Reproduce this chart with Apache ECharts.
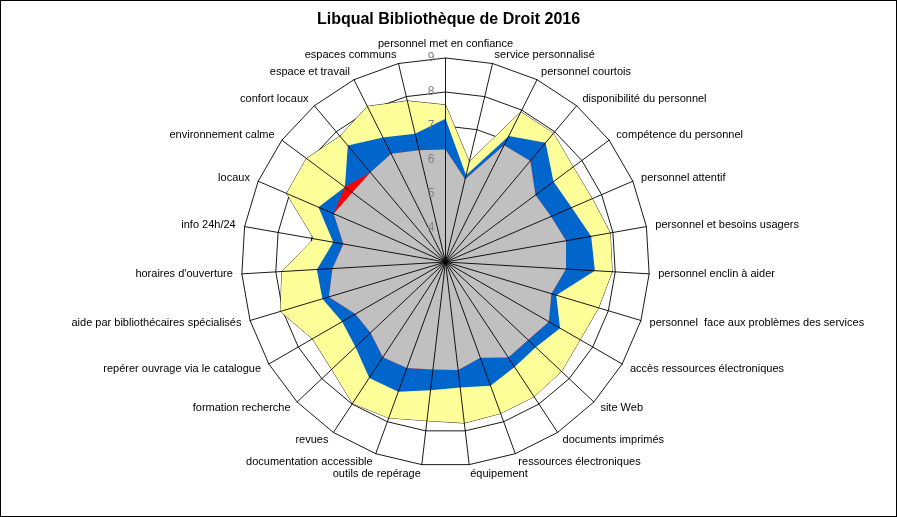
<!DOCTYPE html>
<html>
<head>
<meta charset="utf-8">
<script src="https://cdn.jsdelivr.net/npm/echarts@6/dist/echarts.min.js"></script>
<style>
html,body{margin:0;padding:0;background:#fff;}
#wrap{width:895px;height:515px;border:1px solid #000;}
#chart{width:895px;height:515px;}
</style>
</head>
<body>
<div id="wrap"><div id="chart"></div></div>
<script>
const categories = [
  "personnel met en confiance","service personnalisé","personnel courtois","disponibilité du personnel",
  "compétence du personnel","personnel attentif","personnel et besoins usagers","personnel enclin à aider",
  "personnel  face aux problèmes des services","accès ressources électroniques","site Web","documents imprimés",
  "ressources électroniques","équipement","outils de repérage","documentation accessible","revues",
  "formation recherche","repérer ouvrage via le catalogue","aide par bibliothécaires spécialisés",
  "horaires d'ouverture","info 24h/24","locaux","environnement calme","confort locaux","espace et travail",
  "espaces communs"
];
// Desired mean (yellow)
const desiredMean = [7.62,6.03,7.94,7.94,7.68,7.70,7.92,7.91,7.70,7.57,7.69,7.74,7.74,7.77,7.70,7.88,7.98,7.60,7.52,8.07,7.82,6.93,8.09,8.10,7.83,8.12,7.87];
// Perceived mean (blue)
const perceivedMean = [7.21,5.62,7.15,7.58,6.96,7.04,7.35,7.40,6.40,6.89,6.65,6.70,6.87,6.72,6.80,7.06,7.08,6.64,6.51,6.78,6.79,6.35,7.07,6.69,7.47,7.10,6.88];
// Minimum mean (red layer)
const minimumMean = [6.31,5.50,6.84,6.88,6.30,6.38,6.60,6.55,6.25,6.51,6.34,6.36,6.00,6.20,6.18,6.32,6.35,6.03,6.06,6.58,6.33,6.05,6.58,6.69,6.44,6.56,6.38];
// Visible grey floor
const floorMean = [6.31,5.50,6.84,6.88,6.30,6.38,6.60,6.55,6.25,6.51,6.34,6.36,6.00,6.20,6.18,6.32,6.35,6.03,6.06,6.58,6.33,6.05,6.58,6.42,6.44,6.56,6.38];
const scaleTicks = [3,4,5,6,7,8,9];

// ECharts places indicators counter-clockwise; reorder so they run clockwise
const order = [0].concat(categories.map((_, i) => i).slice(1).reverse());
const pick = arr => order.map(i => arr[i]);

const FONT = '"Liberation Sans", Arial, sans-serif';
const center = [444.5, 261];
const radius = 204;
const minV = scaleTicks[0], maxV = scaleTicks[scaleTicks.length - 1];

const baseIndicators = order.map(i => ({ name: categories[i], min: minV, max: maxV }));
const overlayIndicators = order.map((i, k) => ({
  name: '', min: minV, max: maxV,
  axisLabel: k === 0 ? { show: true } : { show: false }
}));

const chart = echarts.init(document.getElementById('chart'), null, { renderer: 'canvas' });
chart.setOption({
  animation: false,
  backgroundColor: '#fff',
  title: {
    text: 'Libqual Bibliothèque de Droit 2016',
    left: 'center', top: 6,
    textStyle: { fontFamily: FONT, fontSize: 16, fontWeight: 'bold', color: '#000' }
  },
  radar: [
    {
      center: center, radius: radius, startAngle: 90, shape: 'polygon',
      splitNumber: scaleTicks.length - 1, z: 1,
      indicator: baseIndicators,
      axisName: { color: '#000', fontFamily: FONT, fontSize: 11 },
      nameGap: 9,
      axisLine: { show: false },
      axisTick: { show: false },
      axisLabel: { show: false },
      splitLine: { show: true, lineStyle: { color: '#000', width: 0.9 } },
      splitArea: { show: false }
    },
    {
      center: center, radius: radius, startAngle: 90, shape: 'polygon',
      splitNumber: scaleTicks.length - 1, z: 5,
      indicator: overlayIndicators,
      axisName: { show: false },
      axisLine: { show: true, lineStyle: { color: '#000', width: 0.9 } },
      axisTick: { show: false },
      axisLabel: { show: false, showMinLabel: false, color: '#808080', fontFamily: FONT, fontSize: 12, margin: 11 },
      splitLine: { show: false },
      splitArea: { show: false }
    }
  ],
  series: [
    { type: 'radar', radarIndex: 0, z: 2, symbol: 'none',
      lineStyle: { color: '#000', width: 0.8 }, areaStyle: { color: '#FFFF99', opacity: 1 },
      data: [{ value: pick(desiredMean), name: 'Souhaité' }] },
    { type: 'radar', radarIndex: 0, z: 2, symbol: 'none',
      lineStyle: { width: 0 }, areaStyle: { color: '#0066CC', opacity: 1 },
      data: [{ value: pick(perceivedMean), name: 'Perçu' }] },
    { type: 'radar', radarIndex: 0, z: 2, symbol: 'none',
      lineStyle: { width: 0 }, areaStyle: { color: '#FF0000', opacity: 1 },
      data: [{ value: pick(minimumMean), name: 'Minimum' }] },
    { type: 'radar', radarIndex: 0, z: 2, symbol: 'none',
      lineStyle: { width: 0 }, areaStyle: { color: '#C0C0C0', opacity: 1 },
      data: [{ value: pick(floorMean), name: 'Plancher' }] }
  ]
});
</script>
</body>
</html>
